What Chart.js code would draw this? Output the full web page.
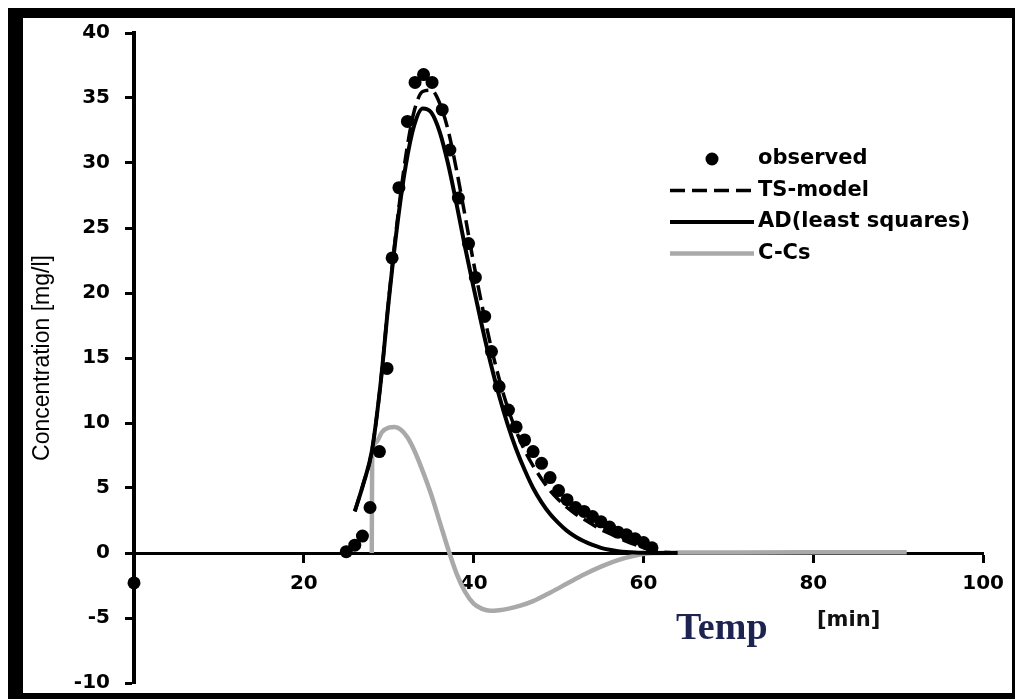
<!DOCTYPE html>
<html>
<head>
<meta charset="utf-8">
<title>Concentration</title>
<script src="https://cdn.jsdelivr.net/npm/chart.js@4.4.1/dist/chart.umd.min.js"></script>
<style>
  html, body { margin: 0; padding: 0; background: #fff; }
  #wrap { position: relative; width: 1015px; height: 699px; overflow: hidden; }
  #myChart { position: absolute; left: 0; top: 0; }
  #frame {
    position: absolute; left: 8px; top: 8px; right: 0; bottom: 0;
    border-style: solid; border-color: #000; border-width: 10px 3px 6px 15px;
    pointer-events: none;
  }
</style>
</head>
<body>
<div id="wrap">
  <canvas id="myChart" width="1015" height="699"></canvas>
  <div id="frame"></div>
</div>
<script>
// observed breakthrough curve
const observedTime = [0, 25, 26, 26.9, 27.8, 28.9, 29.8, 30.4, 31.2, 32.2,
  33.1, 34.1, 35.1, 36.3, 37.2, 38.2, 39.4, 40.2, 41.3, 42.1,
  43, 44.1, 45, 46, 47, 48, 49, 50, 51, 52,
  53, 54, 55, 56, 57, 58, 59, 60, 61];
const observedConc = [-2.3, 0.1, 0.6, 1.3, 3.5, 7.8, 14.2, 22.7, 28.1, 33.2,
  36.2, 36.8, 36.2, 34.1, 31.0, 27.3, 23.8, 21.2, 18.2, 15.5,
  12.8, 11.0, 9.7, 8.7, 7.8, 6.9, 5.8, 4.8, 4.1, 3.5,
  3.2, 2.8, 2.4, 2.0, 1.6, 1.4, 1.1, 0.8, 0.4];

// model curves share the same time steps (26..64 min)
const modelTime = [26, 27, 28, 29, 30, 31, 32, 33, 34, 35,
  36, 37, 38, 39, 40, 41, 42, 43, 44, 45,
  46, 47, 48, 49, 50, 51, 52, 53, 54, 55,
  56, 57, 58, 59, 60, 61, 62, 63, 64];
const tsConc = [3.2, 5.3, 7.8, 12.8, 19.5, 25.5, 30.5, 34.0, 35.5, 35.6,
  34.6, 32.5, 29.4, 25.9, 22.3, 19.0, 16.0, 13.4, 11.2, 9.4,
  7.9, 6.7, 5.7, 4.8, 4.1, 3.5, 3.0, 2.6, 2.2, 1.8,
  1.5, 1.2, 0.9, 0.65, 0.4, 0.2, 0.08, 0.03, 0];
const adConc = [3.2, 5.3, 7.8, 12.8, 19.4, 25.2, 29.8, 32.9, 34.2, 33.9,
  32.4, 29.9, 26.8, 23.5, 20.4, 17.4, 14.6, 12.1, 9.9, 8.0,
  6.4, 5.0, 3.9, 3.0, 2.3, 1.7, 1.25, 0.9, 0.62, 0.4,
  0.25, 0.14, 0.07, 0.03, 0.01, 0, 0, 0, 0];

// residual C - Cs
const ccsTime = [28, 28.05, 28.5, 29.2, 30, 30.7, 31.4, 32.2, 33, 34,
  35, 36, 37, 38, 39, 40, 41, 42, 43, 44,
  45.5, 47, 49, 51, 53, 55, 57, 59, 61, 64,
  70, 80, 91];
const ccsConc = [0, 7.4, 8.5, 9.3, 9.65, 9.7, 9.5, 8.9, 7.9, 6.3,
  4.5, 2.4, 0.3, -1.6, -3.0, -3.9, -4.3, -4.45, -4.4, -4.3,
  -4.05, -3.7, -3.05, -2.35, -1.65, -1.05, -0.55, -0.2, 0.0, 0.03,
  0.04, 0.05, 0.05];

const xTickLabels = [20, 40, 60, 80, 100];
const xTitleParts = ['Temp', '[min]'];

function toPoints(xs, ys) {
  return xs.map((x, i) => ({ x: x, y: ys[i] }));
}

const tickFont = { family: 'DejaVu Sans', size: 20, weight: 'bold' };

// legend drawn inside the plot, right of the peak
const sideLegend = {
  id: 'sideLegend',
  afterDatasetsDraw(chart, args, opts) {
    const c = chart.ctx;
    c.save();
    c.font = opts.font;
    c.textBaseline = 'middle';
    chart.data.datasets.forEach((ds, i) => {
      const y = opts.top + i * opts.rowGap;
      if (ds.showLine === false) {
        c.beginPath();
        c.arc(opts.dotX, y, ds.pointRadius, 0, Math.PI * 2);
        c.fillStyle = ds.backgroundColor;
        c.fill();
      } else {
        c.beginPath();
        c.setLineDash(ds.borderDash || []);
        c.lineWidth = ds.borderWidth;
        c.strokeStyle = ds.borderColor;
        c.moveTo(opts.lineFrom, y);
        c.lineTo(opts.lineTo, y);
        c.stroke();
        c.setLineDash([]);
      }
      c.fillStyle = '#000';
      c.fillText(ds.label, opts.textX, y);
    });
    c.restore();
  }
};

// x axis caption: serif word pasted over the original, then the unit
const axisCaption = {
  id: 'axisCaption',
  afterDraw(chart) {
    const c = chart.ctx;
    c.save();
    c.textBaseline = 'alphabetic';
    c.font = 'bold 38px "Liberation Serif", "Times New Roman", serif';
    c.fillStyle = '#1d2452';
    c.fillText(xTitleParts[0], 676, 639);
    c.font = 'bold 21px "DejaVu Sans", sans-serif';
    c.fillStyle = '#111';
    c.textBaseline = 'middle';
    c.fillText(xTitleParts[1], 817, 621);
    c.restore();
  }
};

const ctx = document.getElementById('myChart').getContext('2d');

const myChart = new Chart(ctx, {
  type: 'scatter',
  data: {
    datasets: [
      {
        label: 'observed',
        data: toPoints(observedTime, observedConc),
        showLine: false,
        pointRadius: 6.5,
        pointBorderWidth: 0,
        backgroundColor: '#000',
        clip: false
      },
      {
        label: 'TS-model',
        data: toPoints(modelTime, tsConc),
        showLine: true,
        pointRadius: 0,
        borderColor: '#000',
        borderWidth: 3.5,
        borderDash: [15, 7],
        cubicInterpolationMode: 'monotone'
      },
      {
        label: 'AD(least squares)',
        data: toPoints(modelTime, adConc),
        showLine: true,
        pointRadius: 0,
        borderColor: '#000',
        borderWidth: 4,
        cubicInterpolationMode: 'monotone'
      },
      {
        label: 'C-Cs',
        data: toPoints(ccsTime, ccsConc),
        showLine: true,
        pointRadius: 0,
        borderColor: '#a9a9a9',
        borderWidth: 4.5,
        cubicInterpolationMode: 'monotone'
      }
    ]
  },
  options: {
    responsive: false,
    animation: false,
    layout: { padding: { left: 0, top: 33, right: 25, bottom: 16 } },
    plugins: {
      legend: { display: false },
      tooltip: { enabled: false },
      sideLegend: {
        font: 'bold 21px "DejaVu Sans", sans-serif',
        top: 159, rowGap: 31.5,
        dotX: 712, lineFrom: 670, lineTo: 754, textX: 758
      }
    },
    scales: {
      x: {
        type: 'linear',
        position: { y: 0 },
        min: 0,
        max: 100,
        ticks: {
          stepSize: 20,
          padding: 11,
          color: '#000',
          font: tickFont,
          callback: v => xTickLabels.includes(v) ? v : ''
        },
        grid: { display: true, drawOnChartArea: false, tickLength: 8, tickWidth: 3, tickColor: '#000' },
        border: { display: true, color: '#000', width: 3 }
      },
      y: {
        min: -10,
        max: 40,
        afterFit(scale) {
          scale.width = 134;
          // let the -10 label hang into the bottom margin
          scale.paddingBottom = 12;
        },
        ticks: { stepSize: 5, padding: 15, color: '#000', font: tickFont },
        grid: { display: true, drawOnChartArea: false, tickLength: 9, tickWidth: 3, tickColor: '#000' },
        border: { display: true, color: '#000', width: 4 },
        title: {
          display: true,
          text: 'Concentration [mg/l]',
          color: '#000',
          font: { family: 'Liberation Sans', size: 23 },
          padding: { top: 29, bottom: 0 }
        }
      }
    }
  },
  plugins: [sideLegend, axisCaption]
});
</script>
</body>
</html>
